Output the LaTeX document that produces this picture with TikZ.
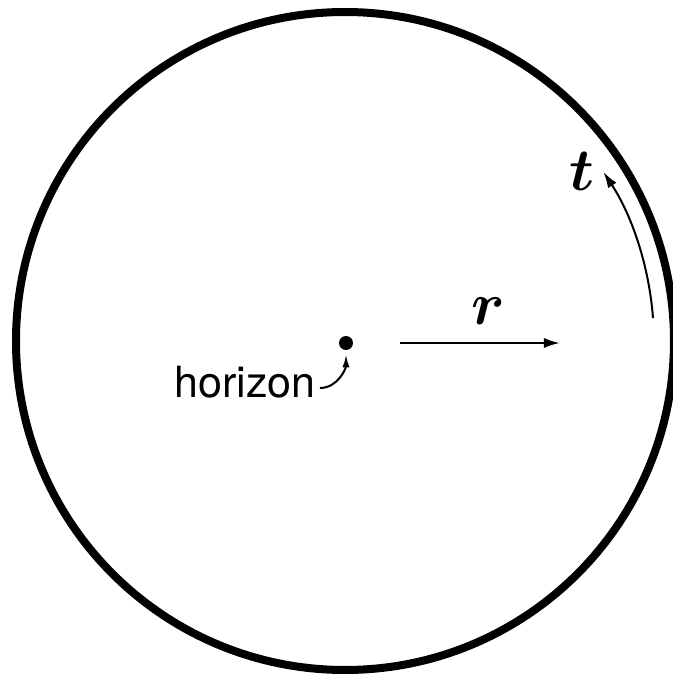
\RequirePackage{fix-cm}
\documentclass[tikz,border=0pt]{standalone}
\usepackage{amsmath}
\usepackage{bm}
\usepackage{fontspec}
\setmainfont{TeX Gyre Heros}
\usetikzlibrary{arrows.meta, positioning}
\tikzset{
  rim/.style={line width=4pt},
  flow/.style={-{Latex[length=8pt, width=5pt]}, line width=1pt},
  lbl/.style={font=\fontsize{21.5}{25}\selectfont, inner sep=0pt},
  mlbl/.style={font=\fontsize{30}{34}\selectfont, inner sep=0pt},
  hole/.style={circle, fill, inner sep=0pt, minimum size=7pt},
}
\begin{document}
\begin{tikzpicture}[x=0.5pt, y=0.5pt]
  \useasboundingbox (0,0) rectangle (673,677);
  % ── outer boundary ───────────────────────────────────────────────
  \coordinate (O) at (345,336);
  \draw[rim] (O) circle[radius=329];
  % ── horizon point ────────────────────────────────────────────────
  \node[hole] (H) at (346,334) {};
  \node[lbl, anchor=base east] (hlab) at (316,279) {horizon};
  \draw[flow, -{Latex[length=6.5pt, width=3.6pt]}, shorten >=2pt]
    ([xshift=2pt, yshift=5pt]hlab.base east) to[out=0, in=-90] (H.south);
  % ── radial direction ─────────────────────────────────────────────
  \coordinate (r0) at (400,334);
  \coordinate (r1) at (560,334);
  \draw[flow] (r0) -- (r1);
  \node[mlbl] (rlab) at (488,366) {$\boldsymbol{r}$};
  % ── time direction (arc) ─────────────────────────────────────────
  \coordinate (t0) at (653,359);
  \draw[flow] (t0) arc[start angle=4.3, end angle=33.2, radius=309];
  \node[mlbl] (tlab) at (582,506) {$\boldsymbol{t}$};
\end{tikzpicture}
\end{document}
